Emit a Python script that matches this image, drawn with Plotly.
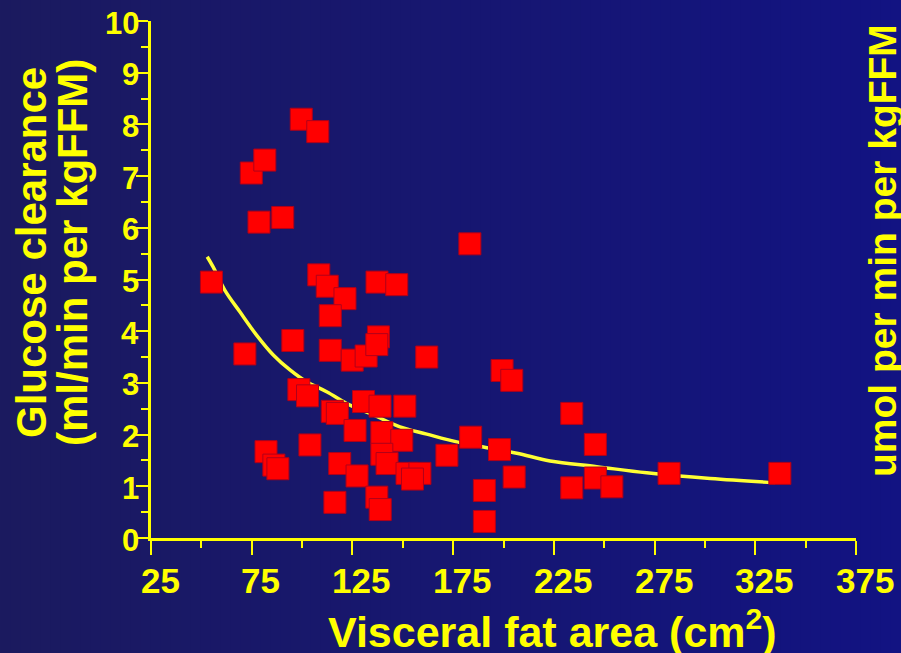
import plotly.graph_objects as go

# ---- data ----
visceral_fat = [55.0, 71.6, 74.8, 81.5, 78.6, 90.4, 99.6, 107.8, 95.4, 82.1,
                86.0, 88.0, 98.4, 102.7, 103.9, 108.3, 112.5, 121.3, 114.0, 114.0,
                124.9, 131.8, 137.9, 137.1, 137.2, 147.0, 161.9, 115.0, 117.5, 130.5,
                138.7, 151.0, 126.3, 139.6, 149.5, 139.6, 142.2, 118.7, 127.3, 152.1,
                158.5, 154.8, 116.3, 137.1, 138.8, 171.9, 183.7, 183.3, 199.3, 204.1,
                198.0, 205.3, 190.5, 190.5, 233.9, 245.6, 233.9, 245.6, 253.8, 282.2,
                337.2]
glucose_clearance = [4.95, 3.56, 7.06, 7.31, 6.11, 6.20, 8.10, 7.86, 3.82, 1.67,
                     1.41, 1.34, 2.87, 2.75, 1.80, 5.09, 4.87, 4.63, 4.30, 3.63,
                     3.44, 3.52, 3.89, 3.74, 4.95, 4.90, 3.50, 2.45, 2.41, 2.64,
                     2.55, 2.55, 2.08, 2.04, 1.89, 1.62, 1.44, 1.44, 1.20, 1.25,
                     1.25, 1.14, 0.69, 0.79, 0.55, 1.60, 1.95, 5.69, 3.24, 3.05,
                     1.71, 1.18, 0.92, 0.32, 2.41, 1.81, 0.97, 1.16, 0.99, 1.25,
                     1.25]

# fitted curve, points
fit_x = [52.9, 55.9, 61.7, 69.2, 77.5, 85.7, 94.0, 102.3, 112.2, 123.8, 135.4,
         148.6, 161.9, 176.8, 190.0, 206.6, 223.1, 246.3, 271.1, 302.6, 334.8]
fit_y = [5.44, 5.24, 4.79, 4.37, 3.92, 3.54, 3.25, 3.02, 2.83, 2.57, 2.38,
         2.15, 2.01, 1.86, 1.76, 1.64, 1.49, 1.38, 1.26, 1.15, 1.07]

x_ticks = [25, 75, 125, 175, 225, 275, 325, 375]
x_minor = [50, 100, 150, 200, 250, 300, 350]
y_ticks = [0, 1, 2, 3, 4, 5, 6, 7, 8, 9, 10]
y_minor = [0.5, 1.5, 2.5, 3.5, 4.5, 5.5, 6.5, 7.5, 8.5, 9.5]

x_title = "Visceral fat area (cm<sup>2</sup>)"
y_title_1 = "Glucose clearance"
y_title_2 = "(ml/min per kgFFM)"
right_title = "umol per min per kgFFM"

YELLOW = "#ffff00"
FONT = "Liberation Sans, Arial, sans-serif"

W, H = 901, 653
L, R, T, B = 151, 45, 21, 115
PW, PH = W - L - R, H - T - B


def px_x(p):
    return (p - L) / PW


def px_y(p):
    return (H - B - p) / PH


fig = go.Figure()

fig.add_trace(go.Scatter(
    x=fit_x, y=fit_y, mode="lines",
    line=dict(color="#ffff33", width=3.5, shape="spline"),
    hoverinfo="skip", showlegend=False,
))
fig.add_trace(go.Scatter(
    x=visceral_fat, y=glucose_clearance, mode="markers",
    marker=dict(symbol="square", size=22, color="#ff0000",
                line=dict(color="#b0001a", width=1)),
    showlegend=False,
))

# horizontal background gradient
shapes = []
n = 90
c0 = (27, 26, 95)
c1 = (18, 19, 130)
for i in range(n):
    t = i / (n - 1)
    col = "rgb(%d,%d,%d)" % tuple(round(a + (b - a) * t) for a, b in zip(c0, c1))
    x0 = i * W / n
    x1 = (i + 1) * W / n + 1
    shapes.append(dict(type="rect", xref="paper", yref="paper",
                       x0=px_x(x0), x1=px_x(x1), y0=px_y(H), y1=px_y(0),
                       fillcolor=col, line=dict(width=0), layer="below"))

annotations = [
    dict(text=x_title, xref="paper", yref="paper", x=px_x(552), y=px_y(629),
         xanchor="center", yanchor="middle", showarrow=False,
         font=dict(family=FONT, size=43, color=YELLOW, weight="bold")),
    dict(text=y_title_1, xref="paper", yref="paper", x=px_x(31), y=px_y(253),
         xanchor="center", yanchor="middle", showarrow=False, textangle=-90,
         font=dict(family=FONT, size=42, color=YELLOW, weight="bold")),
    dict(text=y_title_2, xref="paper", yref="paper", x=px_x(72), y=px_y(253),
         xanchor="center", yanchor="middle", showarrow=False, textangle=-90,
         font=dict(family=FONT, size=42, color=YELLOW, weight="bold")),
    dict(text=right_title, xref="paper", yref="paper", x=px_x(882), y=px_y(251),
         xanchor="center", yanchor="middle", showarrow=False, textangle=-90,
         font=dict(family=FONT, size=39, color=YELLOW, weight="bold")),
]

# tick labels as annotations (slightly offset like the reference slide)
for v in x_ticks:
    annotations.append(dict(
        text=str(v), xref="x", yref="paper", x=v, y=px_y(580), xshift=9,
        xanchor="center", yanchor="middle", showarrow=False,
        font=dict(family=FONT, size=35, color=YELLOW, weight="bold")))
for v in y_ticks:
    annotations.append(dict(
        text=str(v), xref="paper", yref="y", x=px_x(141), y=v, yshift=-2,
        xanchor="right", yanchor="middle", showarrow=False,
        font=dict(family=FONT, size=31, color=YELLOW, weight="bold")))

fig.update_layout(
    width=W, height=H, autosize=False,
    margin=dict(l=L, r=R, t=T, b=B, pad=0, autoexpand=False),
    paper_bgcolor="rgb(22,22,112)",
    plot_bgcolor="rgba(0,0,0,0)",
    shapes=shapes,
    annotations=annotations,
    font=dict(family=FONT, color=YELLOW),
    xaxis=dict(
        range=[25, 375], tickvals=x_ticks, showticklabels=False,
        ticks="outside", ticklen=14, tickwidth=2, tickcolor=YELLOW,
        showline=True, linecolor=YELLOW, linewidth=3,
        showgrid=False, zeroline=False, automargin=False,
        minor=dict(tickvals=x_minor, ticks="outside", ticklen=7, tickwidth=2,
                   tickcolor=YELLOW, showgrid=False),
    ),
    yaxis=dict(
        range=[0, 10], tickvals=y_ticks, showticklabels=False,
        ticks="outside", ticklen=12, tickwidth=2, tickcolor=YELLOW,
        showline=True, linecolor=YELLOW, linewidth=3,
        showgrid=False, zeroline=False, automargin=False,
        minor=dict(tickvals=y_minor, ticks="outside", ticklen=7, tickwidth=2,
                   tickcolor=YELLOW, showgrid=False),
    ),
)

fig.write_html("out.html")
